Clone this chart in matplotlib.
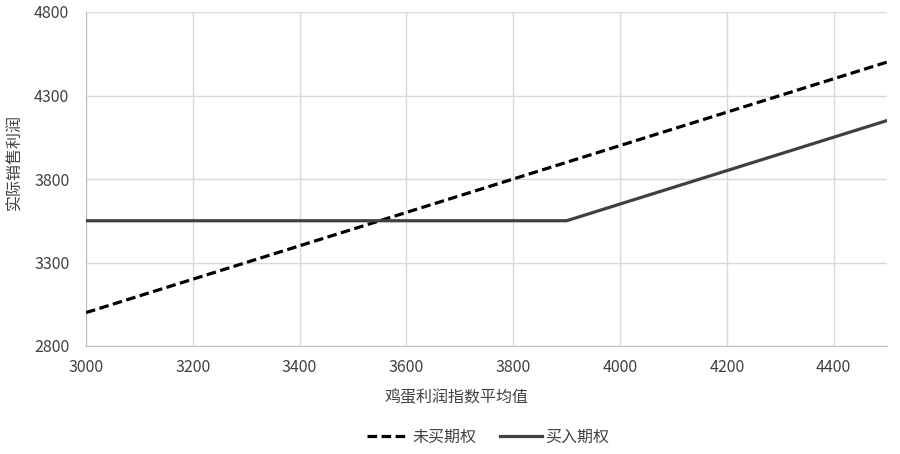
import matplotlib
matplotlib.use("Agg")
import matplotlib.pyplot as plt
from matplotlib.lines import Line2D

plt.rcParams['font.family'] = ['Noto Sans CJK SC', 'DejaVu Sans']

x_no = [3000, 4500]
y_no = [3000, 4500]
x_buy = [3000, 3900, 4500]
y_buy = [3550, 3550, 4150]

xticks = [3000, 3200, 3400, 3600, 3800, 4000, 4200, 4400]
yticks = [2800, 3300, 3800, 4300, 4800]

fig = plt.figure(figsize=(9, 4.54), dpi=100)
ax = fig.add_axes([86/900, 1-346/454, (887-86)/900, (346-12)/454])

ax.plot(x_no, y_no, color='black', lw=2.3, dashes=(3, 1.4), label='未买期权', zorder=3)
ax.plot(x_buy, y_buy, color='#404040', lw=2.3, label='买入期权', zorder=3)

ax.set_xlim(3000, 4500)
ax.set_ylim(2800, 4800)
ax.set_xticks(xticks)
ax.set_yticks(yticks)
ax.grid(True, color='#d9d9d9', lw=1)
ax.set_axisbelow(True)
for s in ['top', 'right']:
    ax.spines[s].set_visible(False)
for s in ['left', 'bottom']:
    ax.spines[s].set_color('#bfbfbf')
ax.tick_params(length=0, labelsize=11.5, colors='#404040')
ax.tick_params(axis='x', pad=9)
ax.tick_params(axis='y', pad=12)

fig.text(457/900, 1-398/454, '鸡蛋利润指数平均值', ha='center', va='center', fontsize=11.5, color='#404040')
fig.text(15/900, 1-162/454, '实际销售利润', ha='center', va='center', rotation=90, fontsize=11.5, color='#404040')

handles = [Line2D([0], [0], color='black', lw=2.3, dashes=(3, 1.4)),
           Line2D([0], [0], color='#404040', lw=2.3)]
fig.legend(handles, ['未买期权', '买入期权'], loc='center', bbox_to_anchor=(488/900, 1-437/454),
           ncol=2, frameon=False, fontsize=11.5, handlelength=2.6, handletextpad=0.25, columnspacing=1.5,
           labelcolor='#404040')

fig.savefig('out.png', dpi=100)
